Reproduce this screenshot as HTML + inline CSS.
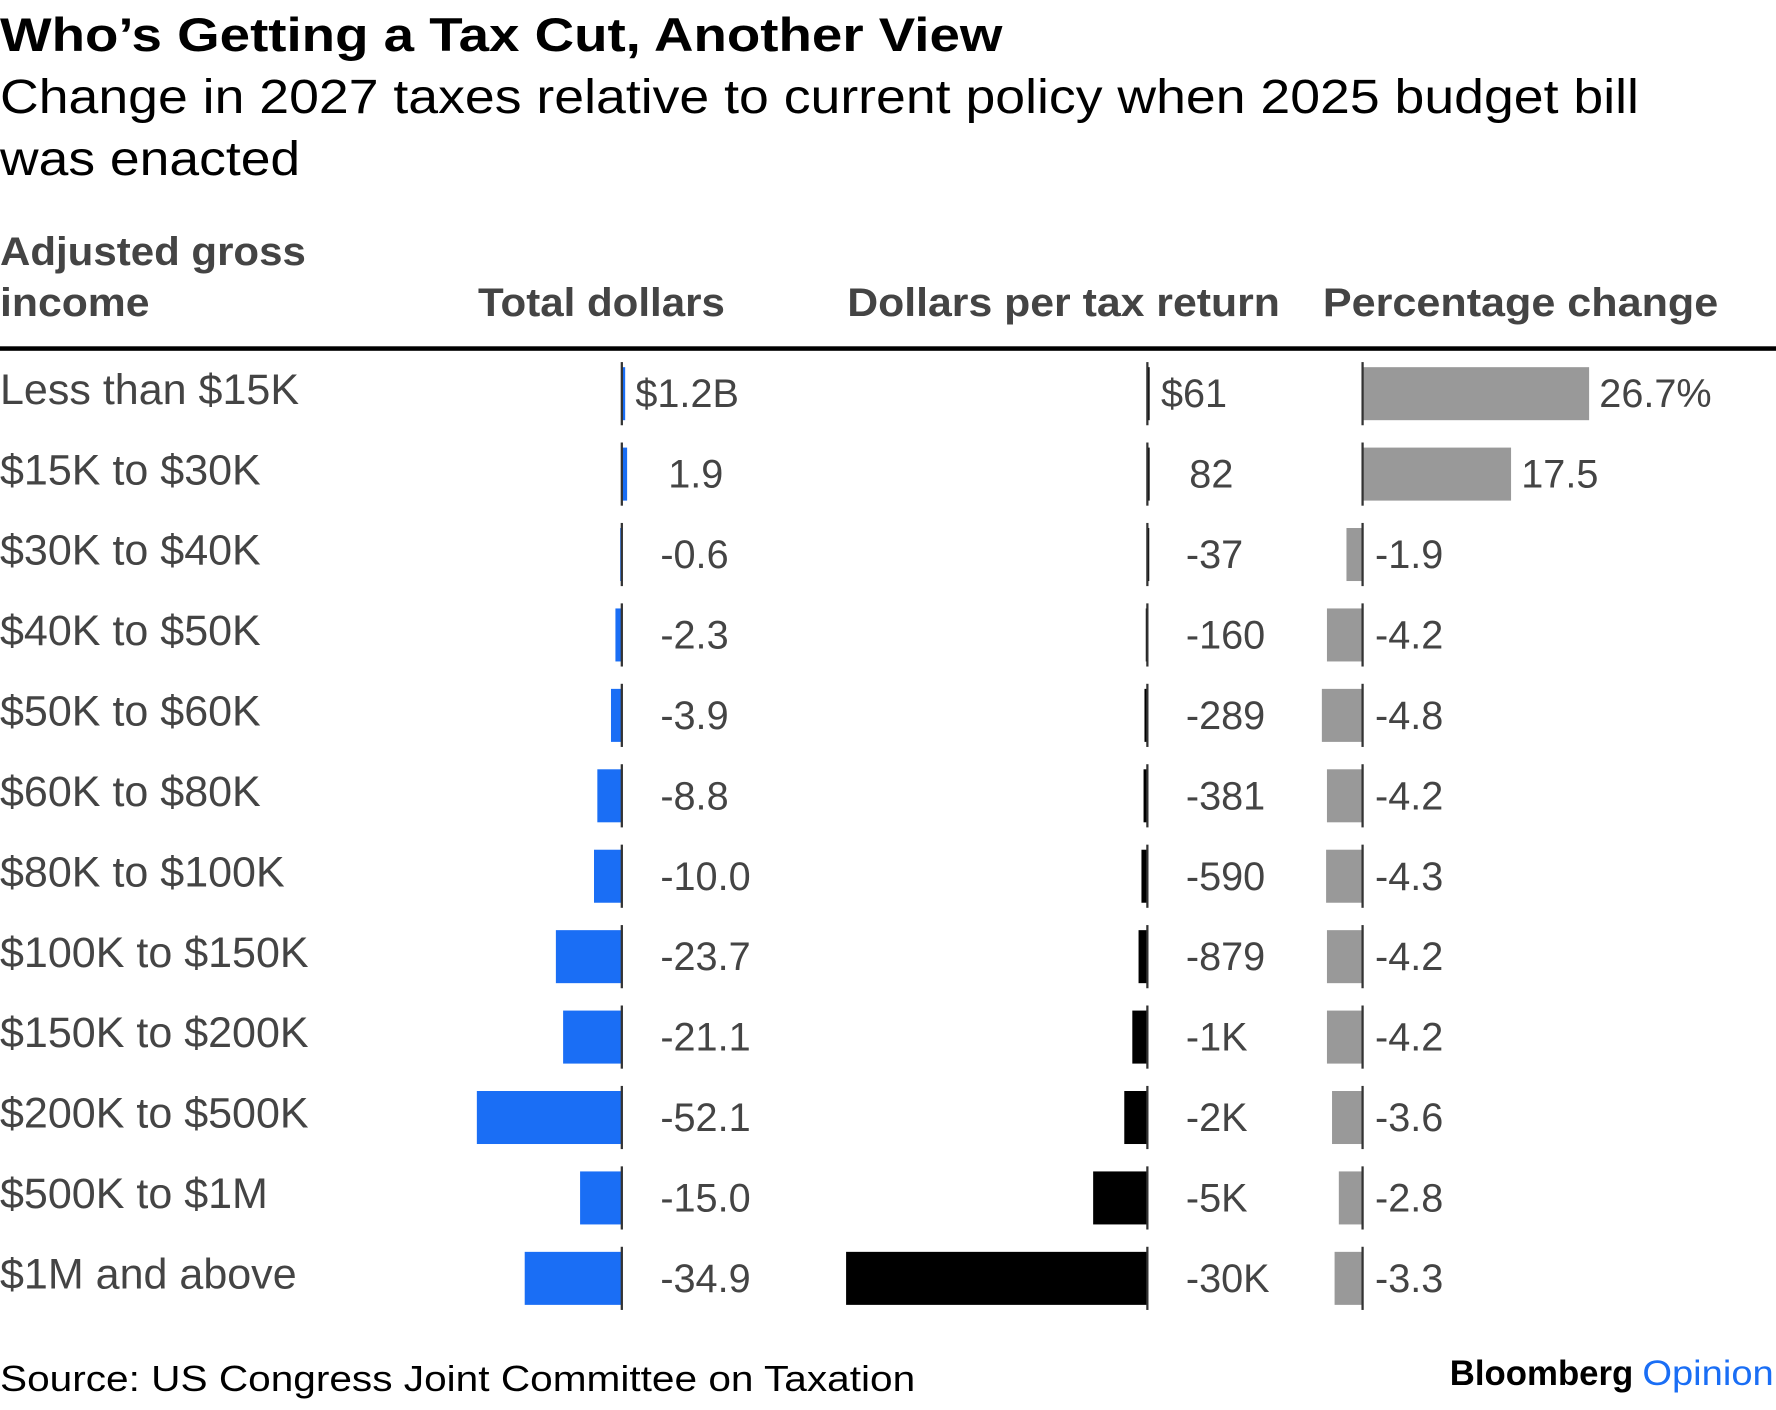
<!DOCTYPE html>
<html><head><meta charset="utf-8"><style>
html,body{margin:0;padding:0;background:#fff;}
svg{display:block;}
text{font-family:"Liberation Sans",sans-serif;}
</style></head><body>
<svg id="chart" width="1776" height="1410" viewBox="0 0 1568 1250" preserveAspectRatio="none" xmlns="http://www.w3.org/2000/svg">
<text x="0" y="45" font-size="42" font-weight="bold" fill="#000" textLength="885" lengthAdjust="spacingAndGlyphs">Who’s Getting a Tax Cut, Another View</text>
<text x="0" y="100" font-size="43" fill="#000" textLength="1447" lengthAdjust="spacingAndGlyphs">Change in 2027 taxes relative to current policy when 2025 budget bill</text>
<text x="0" y="155" font-size="43" fill="#000" textLength="265" lengthAdjust="spacingAndGlyphs">was enacted</text>
<text x="0" y="235" font-size="35" font-weight="bold" fill="#444" textLength="270" lengthAdjust="spacingAndGlyphs">Adjusted gross</text>
<text x="0" y="280" font-size="35" font-weight="bold" fill="#444" textLength="132" lengthAdjust="spacingAndGlyphs">income</text>
<text x="422" y="280" font-size="35" font-weight="bold" fill="#444" textLength="218" lengthAdjust="spacingAndGlyphs">Total dollars</text>
<text x="748" y="280" font-size="35" font-weight="bold" fill="#444" textLength="382" lengthAdjust="spacingAndGlyphs">Dollars per tax return</text>
<text x="1168" y="280" font-size="35" font-weight="bold" fill="#444" textLength="349" lengthAdjust="spacingAndGlyphs">Percentage change</text>
<rect x="0" y="307" width="1568" height="4" fill="#000"/>
<g id="rows"></g>
<text x="0" y="1233" font-size="32" fill="#000" textLength="808" lengthAdjust="spacingAndGlyphs">Source: US Congress Joint Committee on Taxation</text>
<text x="1280" y="1228" font-size="31" font-weight="bold" fill="#000" textLength="162" lengthAdjust="spacingAndGlyphs">Bloomberg</text>
<text x="1450" y="1228" font-size="31" fill="#1a6ef5" textLength="116" lengthAdjust="spacingAndGlyphs">Opinion</text>
</svg>
<script>
const categories = ["Less than $15K","$15K to $30K","$30K to $40K","$40K to $50K","$50K to $60K","$60K to $80K","$80K to $100K","$100K to $150K","$150K to $200K","$200K to $500K","$500K to $1M","$1M and above"];
const totalValues = [1.2,1.9,-0.6,-2.3,-3.9,-8.8,-10.0,-23.7,-21.1,-52.1,-15.0,-34.9];
const totalLabels = ["$1.2B","1.9","-0.6","-2.3","-3.9","-8.8","-10.0","-23.7","-21.1","-52.1","-15.0","-34.9"];
const perReturnValues = [61,82,-37,-160,-289,-381,-590,-879,-1500,-2300,-5400,-30000];
const perReturnLabels = ["$61","82","-37","-160","-289","-381","-590","-879","-1K","-2K","-5K","-30K"];
const pctValues = [26.7,17.5,-1.9,-4.2,-4.8,-4.2,-4.3,-4.2,-4.2,-3.6,-2.8,-3.3];
const pctLabels = ["26.7%","17.5","-1.9","-4.2","-4.8","-4.2","-4.3","-4.2","-4.2","-3.6","-2.8","-3.3"];

const NS = "http://www.w3.org/2000/svg";
const g = document.getElementById("rows");
const rowY = i => 349 + i * 71.3;
const xTotal = v => 549 + v * (128 / 52.1);
const xPer = v => 1013 + v * (266 / 30000);
const xPct = v => 1203 + v * (200 / 26.7);
const BH = 47;

function mk(tag, attrs) {
  const e = document.createElementNS(NS, tag);
  for (const k in attrs) e.setAttribute(k, attrs[k]);
  g.appendChild(e);
  return e;
}
function bar(x0, x1, cy, fill, name) {
  const l = Math.min(x0, x1), w = Math.max(Math.abs(x1 - x0), 2);
  const r = mk("rect", {x: l, y: cy - BH / 2, width: w, height: BH, fill: fill});
  
  
}
function axis(x, cy, name) {
  const a = mk("line", {x1: x, x2: x, y1: cy - 28, y2: cy + 28, stroke: "#333", "stroke-width": 2});
  
  
}
function label(x, y, s, name, fs) {
  const t = mk("text", {x: x, y: y, "font-size": fs || 35, fill: "#444"});
  t.textContent = s;
  
  
}

categories.forEach((c, i) => {
  const cy = rowY(i);
  label(0, cy + 9, c, 'income-label', 38);
  bar(xTotal(0), xTotal(totalValues[i]), cy, "#1a6ef5", 'total-dollars-bar');
  axis(xTotal(0), cy, 'total-dollars-axis');
  let tx = totalValues[i] >= 0 ? (i === 0 ? xTotal(totalValues[i]) + 9 : 590) : 583;
  label(tx, cy + 12, totalLabels[i], 'total-dollars-value');
  bar(xPer(0), xPer(perReturnValues[i]), cy, "#000", 'per-return-bar');
  axis(xPer(0), cy, 'per-return-axis');
  let px = perReturnValues[i] >= 0 ? (i === 0 ? 1025 : 1050) : 1047;
  label(px, cy + 12, perReturnLabels[i], 'per-return-value');
  bar(xPct(0), xPct(pctValues[i]), cy, "#999", 'pct-change-bar');
  axis(xPct(0), cy, 'pct-change-axis');
  let qx = pctValues[i] >= 0 ? xPct(pctValues[i]) + 9 : 1214;
  label(qx, cy + 12, pctLabels[i], 'pct-change-value');
});
</script>
</body></html>
